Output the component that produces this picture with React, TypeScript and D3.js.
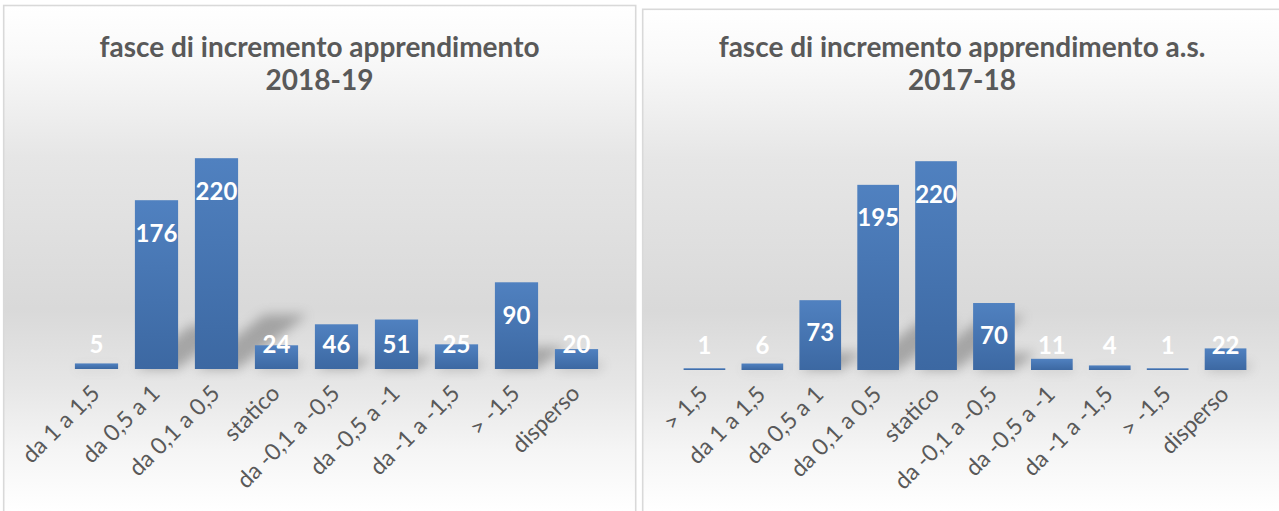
import React from "react";
import * as d3 from "d3";

const leftTitle = ["fasce di incremento apprendimento", "2018-19"];
const leftCategories = ["da 1 a 1,5", "da 0,5 a 1", "da 0,1 a 0,5", "statico", "da -0,1 a -0,5", "da -0,5 a -1", "da -1 a -1,5", "> -1,5", "disperso"];
const leftValues = [5, 176, 220, 24, 46, 51, 25, 90, 20];

const rightTitle = ["fasce di incremento apprendimento a.s.", "2017-18"];
const rightCategories = ["> 1,5", "da 1 a 1,5", "da 0,5 a 1", "da 0,1 a 0,5", "statico", "da -0,1 a -0,5", "da -0,5 a -1", "da -1 a -1,5", "> -1,5", "disperso"];
const rightValues = [1, 6, 73, 195, 220, 70, 11, 4, 1, 22];

const W = 1279;
const H = 511;
const FONT = "Lato, 'Open Sans', 'DejaVu Sans', sans-serif";

type Cfg = {
  id: string;
  title: string[];
  cats: string[];
  vals: number[];
  box: { x: number; y: number; w: number; h: number };
  x0: number;
  x1: number;
  base: number;
  top: number;
  titleX: number;
};

const charts: Cfg[] = [
  {
    id: "l",
    title: leftTitle,
    cats: leftCategories,
    vals: leftValues,
    box: { x: 3.7, y: 5.5, w: 632, h: 530 },
    x0: 66.5,
    x1: 606.5,
    base: 369,
    top: 159,
    titleX: 319.5,
  },
  {
    id: "r",
    title: rightTitle,
    cats: rightCategories,
    vals: rightValues,
    box: { x: 642.7, y: 9.3, w: 640, h: 530 },
    x0: 675.5,
    x1: 1254.5,
    base: 370,
    top: 162,
    titleX: 962,
  },
];

function Chart({ c }: { c: Cfg }) {
  const x = d3.scaleBand<string>().domain(c.cats).range([c.x0, c.x1]).paddingInner(0.28).paddingOuter(0.14);
  const y = d3.scaleLinear().domain([0, 220]).range([c.base, c.top]);
  const bw = x.bandwidth();
  return (
    <g>
      <defs>
        <linearGradient id={`bg-${c.id}`} gradientUnits="userSpaceOnUse" x1="0" y1={c.box.y} x2="0" y2={H}>
          <stop offset="0" stopColor="#ffffff" />
          <stop offset="0.1" stopColor="#f9f9f9" />
          <stop offset="0.3" stopColor="#e6e6e6" />
          <stop offset="0.6" stopColor="#d9d9d9" />
          <stop offset="0.75" stopColor="#e6e6e6" />
          <stop offset="0.88" stopColor="#f5f5f5" />
          <stop offset="1" stopColor="#ffffff" />
        </linearGradient>
        <linearGradient id={`bar-${c.id}`} x1="0" y1="0" x2="0" y2="1">
          <stop offset="0" stopColor="#5081c0" />
          <stop offset="1" stopColor="#3c68a2" />
        </linearGradient>
        <filter id={`blur-${c.id}`} x="-50%" y="-50%" width="200%" height="200%">
          <feGaussianBlur stdDeviation="6" />
        </filter>
      </defs>
      <rect x={c.box.x} y={c.box.y} width={c.box.w} height={c.box.h} fill={`url(#bg-${c.id})`} stroke="#d9d9d9" strokeWidth={1.6} />
      {c.title.map((t, i) => (
        <text
          key={i}
          x={c.titleX}
          y={46 + i * 33}
          textAnchor="middle"
          dominantBaseline="central"
          fontFamily={FONT}
          fontWeight="bold"
          fontSize={28}
          fill="#595959"
        >
          {t}
        </text>
      ))}
      {/* perspective shadows */}
      <g filter={`url(#blur-${c.id})`} opacity={0.42}>
        {c.cats.map((k, i) => {
          const h = c.base - y(c.vals[i]);
          const bx = x(k)!;
          const dx = h * 0.33;
          const dy = h * 0.26;
          const pts = [
            [bx, c.base],
            [bx + bw, c.base],
            [bx + bw + dx, c.base - dy],
            [bx + dx, c.base - dy],
          ];
          return <polygon key={k} points={pts.map((p) => p.join(",")).join(" ")} fill="#555" />;
        })}
      </g>
      {c.cats.map((k, i) => {
        const yy = y(c.vals[i]);
        return (
          <rect
            key={k}
            x={x(k)}
            y={yy - 0.8}
            width={bw}
            height={c.base - yy + 0.8}
            fill={`url(#bar-${c.id})`}
          />
        );
      })}
      {c.cats.map((k, i) => {
        const yy = y(c.vals[i]);
        const ly = Math.min(yy + 31, c.base - 26);
        return (
          <text
            key={k}
            x={x(k)! + bw / 2}
            y={ly}
            textAnchor="middle"
            dominantBaseline="central"
            fontFamily={FONT}
            fontWeight="bold"
            fontSize={24}
            fill="#ffffff"
          >
            {c.vals[i]}
          </text>
        );
      })}
      {c.cats.map((k) => {
        const cx = x(k)! + bw / 2;
        return (
          <text
            key={k}
            transform={`translate(${cx - 1},${c.base + 20}) rotate(-45)`}
            textAnchor="end"
            dy="0.35em"
            fontFamily={FONT}
            fontSize={23}
            fill="#595959"
          >
            {k}
          </text>
        );
      })}
    </g>
  );
}

export default function App() {
  return (
    <svg
      width={W}
      height={H}
      style={{ position: "absolute", left: 0, top: 0, display: "block", background: "#ffffff" }}
    >
      <rect x={0} y={0} width={W} height={H} fill="#ffffff" />
      {charts.map((c) => (
        <Chart key={c.id} c={c} />
      ))}
    </svg>
  );
}
